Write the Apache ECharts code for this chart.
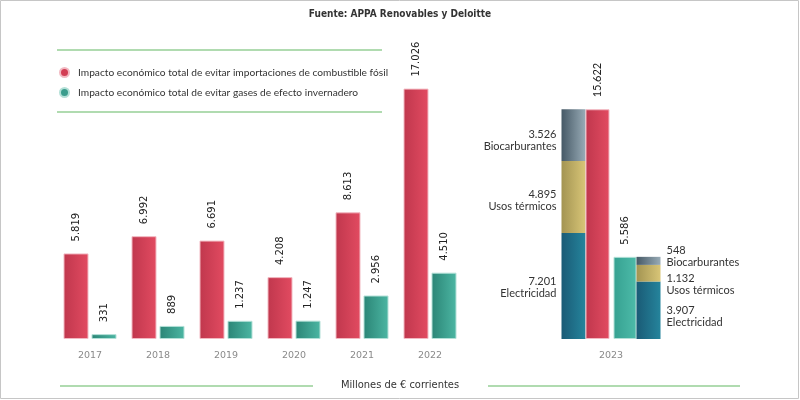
<!DOCTYPE html>
<html><head><meta charset="utf-8">
<script src="https://cdn.jsdelivr.net/npm/echarts@6/dist/echarts.min.js"></script>
<style>html,body{margin:0;padding:0;background:#fff}#c{width:800px;height:400px}</style>
</head><body><div id="c"></div>
<script>
// ---- data ----
const years = ['2017', '2018', '2019', '2020', '2021', '2022'];
const fossil = [5819, 6992, 6691, 4208, 8613, 17026];
const gei = [331, 889, 1237, 1247, 2956, 4510];
const year2023 = ['2023'];
const fossil2023 = [15622];
const gei2023 = [5586];
const breakdownNames = ['Electricidad', 'Usos térmicos', 'Biocarburantes'];
const fossilBreakdown = [7201, 4895, 3526];
const geiBreakdown = [3907, 1132, 548];
const legendNames = ['Impacto económico total de evitar importaciones de combustible fósil',
                     'Impacto económico total de evitar gases de efecto invernadero'];

// ---- helpers ----
const fmt = v => String(v).replace(/\B(?=(\d{3})+(?!\d))/g, '.');
const grad = (a, b) => new echarts.graphic.LinearGradient(0, 0, 1, 0, [{offset: 0, color: a}, {offset: 1, color: b}]);
const AXMAX = 20400;
const topLabel = (font, size) => ({
  show: true, position: 'top', rotate: 90, align: 'left', verticalAlign: 'middle', distance: 12,
  formatter: p => fmt(p.value), fontFamily: font, fontSize: size, color: '#222'
});
const RED = () => grad('#c0374d', '#e24b61');
const TEAL = () => grad('#2b8576', '#4cb6a3');
const TEAL23 = () => grad('#36a191', '#4dbba9');
const segColors = [() => grad('#1a5b76', '#25849c'), () => grad('#a39452', '#d8c577'), () => grad('#465966', '#98abb6')];
const leftOffsets = [[0, 1], [0, 3], [0, 5]];
const rightOffsets = [[0, 6], [0, 11], [0, -4]];
const stackLabel = (pos, off) => ({
  show: true, position: pos, distance: pos === 'left' ? 5 : 6, offset: off,
  formatter: p => fmt(p.value) + '\n' + p.seriesName,
  fontFamily: 'Lato', fontSize: 11, lineHeight: 12, color: '#333'
});

const series = [
  {name: legendNames[0], type: 'bar', xAxisIndex: 0, yAxisIndex: 0, data: fossil, barWidth: 25, barGap: '12%',
   itemStyle: {color: RED(), borderColor: '#f2b9c2', borderWidth: 1}, label: topLabel('DejaVu Sans', 10)},
  {name: legendNames[1], type: 'bar', xAxisIndex: 0, yAxisIndex: 0, data: gei, barWidth: 25, barGap: '12%',
   itemStyle: {color: TEAL(), borderColor: '#b3e0d7', borderWidth: 1}, label: topLabel('DejaVu Sans', 10)}
];
breakdownNames.forEach((n, i) => series.push({
  name: n, type: 'bar', xAxisIndex: 1, yAxisIndex: 1, stack: 'fossilParts', data: [fossilBreakdown[i]],
  barWidth: 24, barGap: '0%', itemStyle: {color: segColors[i]()}, label: stackLabel('left', leftOffsets[i])
}));
series.push({name: legendNames[0], type: 'bar', xAxisIndex: 1, yAxisIndex: 1, stack: 'fossilTotal', data: fossil2023,
  barWidth: 24, barGap: '0%', itemStyle: {color: RED(), borderColor: '#f2b9c2', borderWidth: 1}, label: topLabel('Lato', 11)});
series.push({name: 'spacer', type: 'bar', xAxisIndex: 1, yAxisIndex: 1, stack: 'spacer', data: ['-'],
  barWidth: 4, barGap: '0%', silent: true});
series.push({name: legendNames[1], type: 'bar', xAxisIndex: 1, yAxisIndex: 1, stack: 'geiTotal', data: gei2023,
  barWidth: 23, barGap: '0%', itemStyle: {color: TEAL23(), borderColor: '#b3e0d7', borderWidth: 1}, label: topLabel('DejaVu Sans', 10)});
breakdownNames.forEach((n, i) => series.push({
  name: n, type: 'bar', xAxisIndex: 1, yAxisIndex: 1, stack: 'geiParts', data: [geiBreakdown[i]],
  barWidth: 24, barGap: '0%', itemStyle: {color: segColors[i]()}, label: stackLabel('right', rightOffsets[i])
}));

const xAxisBase = {
  type: 'category', axisLine: {show: false}, axisTick: {show: false},
  axisLabel: {color: '#8a8a8a', fontSize: 9.5, fontFamily: 'DejaVu Sans', margin: 12}
};
const lineStyle = {stroke: '#96cf96', lineWidth: 1.5};

const option = {
  animation: false,
  grid: [{left: 56, width: 408, top: 39, height: 300}, {left: 541, width: 140, top: 39, height: 300}],
  xAxis: [Object.assign({gridIndex: 0, data: years}, xAxisBase), Object.assign({gridIndex: 1, data: year2023}, xAxisBase)],
  yAxis: [{gridIndex: 0, type: 'value', min: 0, max: AXMAX, show: false},
          {gridIndex: 1, type: 'value', min: 0, max: AXMAX, show: false}],
  legend: {
    orient: 'vertical', left: 54, top: 62, itemWidth: 9, itemHeight: 9, itemGap: 9, icon: 'circle',
    textStyle: {fontFamily: 'Lato', fontSize: 10.2, color: '#333', padding: [0, 0, 0, 4]},
    data: [{name: legendNames[0], itemStyle: {color: '#d23c53'}}, {name: legendNames[1], itemStyle: {color: '#3a9d8d'}}]
  },
  graphic: [
    {type: 'rect', shape: {x: 0.5, y: 0.5, width: 798, height: 398}, style: {fill: 'none', stroke: '#c6c6c6', lineWidth: 1}, silent: true},
    {type: 'text', x: 400, y: 14, style: {text: 'Fuente: APPA Renovables y Deloitte', align: 'center', verticalAlign: 'middle',
      font: 'bold 10px "Liberation Sans Narrow", "DejaVu Sans Condensed", sans-serif', fill: '#333'}},
    {type: 'text', x: 400, y: 385, style: {text: 'Millones de € corrientes', align: 'center', verticalAlign: 'middle',
      font: '11px "Liberation Sans Narrow", "DejaVu Sans Condensed", sans-serif', fill: '#333'}},
    {type: 'line', shape: {x1: 57, y1: 50, x2: 382, y2: 50}, style: lineStyle, silent: true},
    {type: 'line', shape: {x1: 57, y1: 112, x2: 382, y2: 112}, style: lineStyle, silent: true},
    {type: 'line', shape: {x1: 60, y1: 386, x2: 313, y2: 386}, style: lineStyle, silent: true},
    {type: 'line', shape: {x1: 488, y1: 386, x2: 740, y2: 386}, style: lineStyle, silent: true}
  ],
  series: series
};
echarts.init(document.getElementById('c'), null, {renderer: 'canvas'}).setOption(option);
</script>
</body></html>
